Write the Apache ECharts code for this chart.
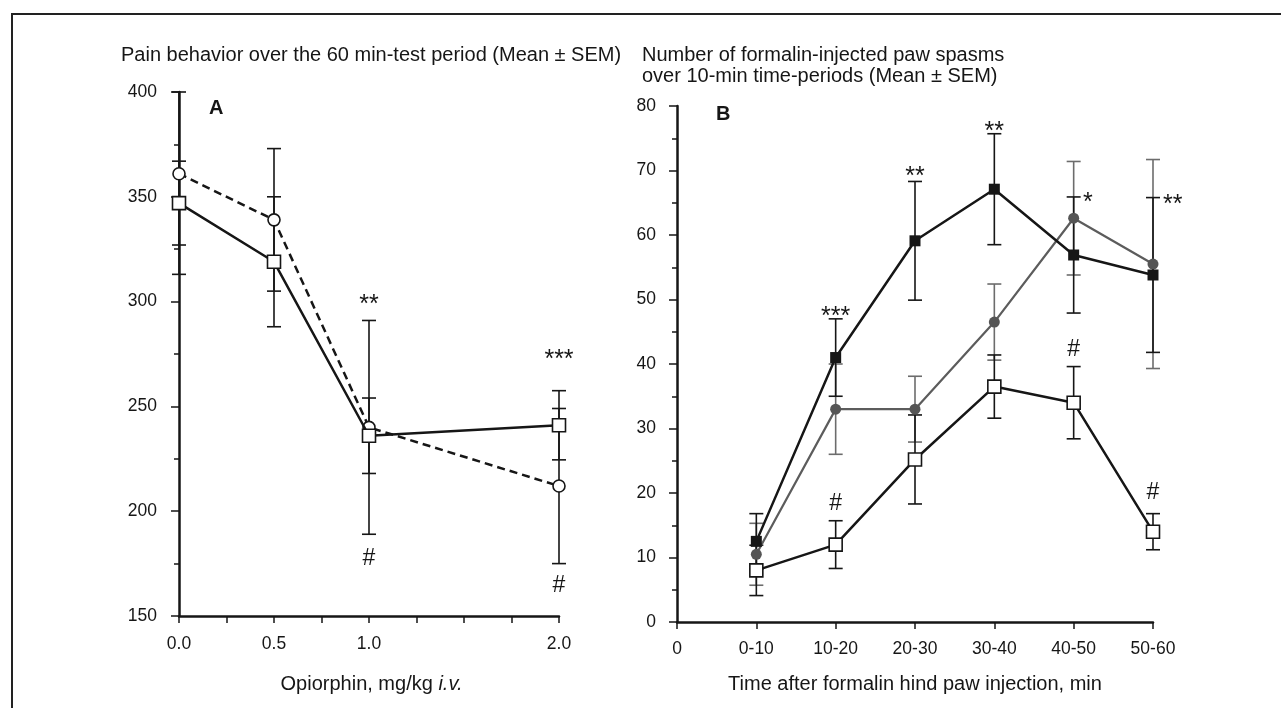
<!DOCTYPE html>
<html>
<head>
<meta charset="utf-8">
<script src="https://cdn.jsdelivr.net/npm/echarts@6/dist/echarts.min.js"></script>
<style>
  html, body { margin: 0; padding: 0; background: #fff; }
  #frame {
    position: absolute; left: 11px; top: 13px; right: -4px; bottom: -4px;
    border: 2px solid #222;
  }
  #chart { position: absolute; left: 0; top: 0; width: 1281px; height: 708px; }
</style>
</head>
<body>
<div id="frame"></div>
<div id="chart"></div>
<script>
  // panel A: dose response
  const doses = [0, 0.5, 1, 2]
  const doseTickValues = [0, 0.5, 1, 2]
  const doseTickTexts = ['0.0', '0.5', '1.0', '2.0']
  const squareMean = [347, 319, 236, 241]
  const squareSem = [20, 31, 18, 16.5]
  const circleMean = [361, 339, 240, 212]
  const circleSem = [48, 34, 51, 37]
  const marksA = [
    ['**', 1, 298.5],
    ['#', 1, 177.5],
    ['***', 2, 272],
    ['#', 2, 164.5],
  ]

  // panel B: time course
  const periods = ['0-10', '10-20', '20-30', '30-40', '40-50', '50-60']
  const filledMean = [12.5, 41, 59.1, 67.1, 56.9, 53.8]
  const filledSem = [4.3, 6, 9.2, 8.6, 9, 12]
  const grayMean = [10.5, 33, 33, 46.5, 62.6, 55.5]
  const graySem = [4.8, 7, 5.1, 5.9, 8.8, 16.2]
  const openMean = [8, 12, 25.2, 36.5, 34, 14]
  const openSem = [3.9, 3.7, 6.9, 4.9, 5.6, 2.8]
  const marksB = [
    ['***', 2, 47.3],
    ['**', 3, 69],
    ['**', 4, 75.9],
    ['*', 5.18, 64.9],
    ['**', 6.25, 64.6],
    ['#', 2, 18.4],
    ['#', 5, 42.2],
    ['#', 6, 20],
  ]

  const FONT = 'Liberation Sans, Arial, sans-serif'
  const INK = '#161616'

  var chart = echarts.init(document.getElementById('chart'))

  function pairs(xs, ys) {
    return ys.map(function (y, i) { return [xs[i], y] })
  }
  function bars(xs, mean, sem) {
    return mean.map(function (m, i) { return [xs[i], m - sem[i], m + sem[i]] })
  }
  var periodX = periods.map(function (p, i) { return i + 1 })

  function renderBars(params, api) {
    var x = api.value(0)
    var top = api.coord([x, api.value(2)])
    var bot = api.coord([x, api.value(1)])
    // keep bars inside the plot vertically, caps may stick out sideways
    var cs = params.coordSys
    top[1] = Math.max(top[1], cs.y)
    bot[1] = Math.min(bot[1], cs.y + cs.height)
    var color = api.visual('color')
    var w = 7
    var style = { stroke: color, lineWidth: 1.6 }
    return {
      type: 'group',
      children: [
        { type: 'line', shape: { x1: top[0], y1: top[1], x2: bot[0], y2: bot[1] }, style: style },
        { type: 'line', shape: { x1: top[0] - w, y1: top[1], x2: top[0] + w, y2: top[1] }, style: style },
        { type: 'line', shape: { x1: bot[0] - w, y1: bot[1], x2: bot[0] + w, y2: bot[1] }, style: style },
      ],
    }
  }

  function textRenderer(marks) {
    return function (params, api) {
      var p = api.coord([api.value(0), api.value(1)])
      var t = marks[params.dataIndex][0]
      return {
        type: 'text',
        x: p[0],
        y: p[1],
        style: {
          text: t,
          fill: INK,
          font: (t === '#' ? '23px ' : '25px ') + FONT,
          align: 'center',
          verticalAlign: 'middle',
        },
      }
    }
  }

  function errSeries(data, color, x, y) {
    return {
      type: 'custom',
      xAxisIndex: x,
      yAxisIndex: y,
      renderItem: renderBars,
      itemStyle: { color: color },
      encode: { x: 0, y: [1, 2] },
      data: data,
      clip: false,
      z: 1,
      silent: true,
    }
  }

  var axisCommon = {
    axisLine: { show: true, onZero: false, lineStyle: { color: INK, width: 2.5 } },
    axisTick: { show: true, inside: false, length: 8, lineStyle: { color: INK, width: 1.5 } },
    splitLine: { show: false },
    axisLabel: { color: INK, fontSize: 17.5, fontFamily: FONT },
    nameTextStyle: { color: INK, fontSize: 20, fontFamily: FONT },
  }

  var option = {
    animation: false,
    title: [
      {
        text: 'Pain behavior over the 60 min-test period (Mean ± SEM)',
        left: 116, top: 40,
        textStyle: { color: INK, fontSize: 20, fontWeight: 'normal', fontFamily: FONT, lineHeight: 20 },
      },
      {
        text: 'Number of formalin-injected paw spasms\nover 10-min time-periods (Mean ± SEM)',
        left: 637, top: 40,
        textStyle: { color: INK, fontSize: 20, fontWeight: 'normal', fontFamily: FONT, lineHeight: 21 },
      },
      {
        text: 'A', left: 204, top: 93,
        textStyle: { color: INK, fontSize: 20, fontWeight: 'bold', fontFamily: FONT },
      },
      {
        text: 'B', left: 711, top: 99,
        textStyle: { color: INK, fontSize: 20, fontWeight: 'bold', fontFamily: FONT },
      },
    ],
    grid: [
      { left: 179, top: 92, width: 380, height: 524 },
      { left: 677, top: 106, width: 476, height: 516 },
    ],
    xAxis: [
      Object.assign({}, axisCommon, {
        type: 'value', gridIndex: 0, min: 0, max: 2, interval: 0.25,
        name: 'Opiorphin, mg/kg {i|i.v.}', nameLocation: 'middle', nameGap: 58,
        nameTextStyle: {
          color: INK, fontSize: 20, fontFamily: FONT, padding: [0, 0, 0, 5],
          rich: { i: { fontStyle: 'italic', fontSize: 20, fontFamily: FONT, color: INK } },
        },
        axisTick: { show: true, inside: false, length: 7, lineStyle: { color: INK, width: 1.5 } },
        axisLabel: {
          color: INK, fontSize: 17.5, fontFamily: FONT, margin: 19, interval: 0,
          showMinLabel: true, showMaxLabel: true, hideOverlap: false,
          formatter: function (v) {
            var k = doseTickValues.indexOf(v)
            return k < 0 ? '' : doseTickTexts[k]
          },
        },
      }),
      Object.assign({}, axisCommon, {
        type: 'value', gridIndex: 1, min: 0, max: 6, interval: 1,
        name: 'Time after formalin hind paw injection, min', nameLocation: 'middle', nameGap: 52,
        axisTick: { show: true, inside: false, length: 7, lineStyle: { color: INK, width: 1.5 } },
        axisLabel: {
          color: INK, fontSize: 17.5, fontFamily: FONT, margin: 18, interval: 0,
          showMinLabel: true, showMaxLabel: true, hideOverlap: false,
          formatter: function (v) { return v === 0 ? '0' : periods[v - 1] },
        },
      }),
    ],
    yAxis: [
      Object.assign({}, axisCommon, {
        type: 'value', gridIndex: 0, min: 150, max: 400, interval: 50,
        minorTick: { show: true, splitNumber: 2, length: 5, lineStyle: { color: INK, width: 1.5 } },
        axisLabel: { color: INK, fontSize: 17.5, fontFamily: FONT, margin: 22 },
      }),
      Object.assign({}, axisCommon, {
        type: 'value', gridIndex: 1, min: 0, max: 80, interval: 10,
        minorTick: { show: true, splitNumber: 2, length: 5, lineStyle: { color: INK, width: 1.5 } },
        axisLabel: { color: INK, fontSize: 17.5, fontFamily: FONT, margin: 21 },
      }),
    ],
    series: [
      // panel A
      errSeries(bars(doses, circleMean, circleSem), INK, 0, 0),
      errSeries(bars(doses, squareMean, squareSem), INK, 0, 0),
      {
        type: 'line', xAxisIndex: 0, yAxisIndex: 0, z: 3,
        data: pairs(doses, circleMean),
        symbol: 'circle', symbolSize: 12,
        lineStyle: { color: INK, width: 2.5, type: [8, 5] },
        itemStyle: { color: '#fff', borderColor: INK, borderWidth: 1.6 },
      },
      {
        type: 'line', xAxisIndex: 0, yAxisIndex: 0, z: 4,
        data: pairs(doses, squareMean),
        symbol: 'rect', symbolSize: 13,
        lineStyle: { color: INK, width: 2.5 },
        itemStyle: { color: '#fff', borderColor: INK, borderWidth: 1.6 },
      },
      {
        type: 'custom', xAxisIndex: 0, yAxisIndex: 0, clip: false, z: 5,
        data: marksA.map(function (m) { return [m[1], m[2]] }),
        renderItem: textRenderer(marksA),
      },
      // panel B
      errSeries(bars(periodX, grayMean, graySem), '#6c6c6c', 1, 1),
      errSeries(bars(periodX, filledMean, filledSem), INK, 1, 1),
      errSeries(bars(periodX, openMean, openSem), INK, 1, 1),
      {
        type: 'line', xAxisIndex: 1, yAxisIndex: 1, z: 3,
        data: pairs(periodX, grayMean),
        symbol: 'circle', symbolSize: 11,
        lineStyle: { color: '#5c5c5c', width: 2.2 },
        itemStyle: { color: '#555', borderColor: '#555', borderWidth: 0 },
      },
      {
        type: 'line', xAxisIndex: 1, yAxisIndex: 1, z: 4,
        data: pairs(periodX, filledMean),
        symbol: 'rect', symbolSize: 11,
        lineStyle: { color: INK, width: 2.5 },
        itemStyle: { color: INK, borderColor: INK, borderWidth: 0 },
      },
      {
        type: 'line', xAxisIndex: 1, yAxisIndex: 1, z: 4,
        data: pairs(periodX, openMean),
        symbol: 'rect', symbolSize: 13,
        lineStyle: { color: INK, width: 2.5 },
        itemStyle: { color: '#fff', borderColor: INK, borderWidth: 1.6 },
      },
      {
        type: 'custom', xAxisIndex: 1, yAxisIndex: 1, clip: false, z: 5,
        data: marksB.map(function (m) { return [m[1], m[2]] }),
        renderItem: textRenderer(marksB),
      },
    ],
  }

  chart.setOption(option)
</script>
</body>
</html>
